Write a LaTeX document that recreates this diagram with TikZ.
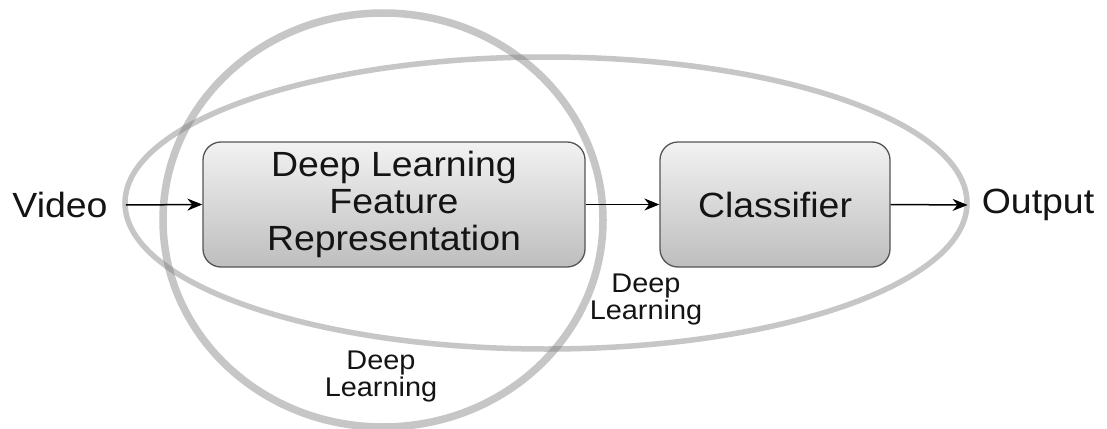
\documentclass[tikz,border=0pt]{standalone}
\usepackage{fontspec}
\setmainfont{Liberation Sans}[FakeStretch=1.07]
\usetikzlibrary{arrows.meta}
\definecolor{ringgray}{RGB}{120,120,120}
\definecolor{boxtop}{RGB}{242,242,242}
\definecolor{boxbot}{RGB}{190,190,190}
\definecolor{boxedge}{RGB}{85,85,85}
\definecolor{ink}{RGB}{20,20,20}
\begin{document}
\begin{tikzpicture}[x=1pt,y=-1pt,
  ring/.style={draw=ringgray,draw opacity=0.42},
  procbox/.style={draw=boxedge,line width=1.3pt,rounded corners=18pt,
    top color=boxtop,bottom color=boxbot,align=center,text=ink,
    font=\fontsize{35}{37}\selectfont,inner sep=0pt},
  lbl/.style={text=ink,font=\fontsize{35}{37}\selectfont,inner sep=0pt},
  small/.style={text=ink,align=center,font=\fontsize{27}{27}\selectfont,inner sep=0pt},
  flow/.style={draw=black,line width=1.5pt,-{Stealth[length=15pt,width=12pt]}}]
\useasboundingbox[fill=white] (0,0) rectangle (1107,428);
% overlapping rings
\draw[ring,line width=5.5pt] (546,203) ellipse [x radius=421,y radius=146];
\draw[ring,line width=7.5pt] (383,220) ellipse [x radius=220,y radius=207];
% nodes
\node[lbl] (video) at (60,205) {Video};
\node[procbox,minimum width=382pt,minimum height=125pt] (feat) at (394,204.5)
  {Deep Learning\\Feature\\Representation};
\node[procbox,minimum width=230pt,minimum height=125pt] (cls) at (775,204.5) {Classifier};
\node[lbl] (out) at (1038,205) {Output};
\node[small] (dl1) at (381,377) {Deep\\Learning};
\node[small] (dl2) at (646,300) {Deep\\Learning};
% connectors
\coordinate (vs) at ([xshift=18pt]video.east);
\coordinate (oe) at ([xshift=-14pt]out.west);
\draw[flow] (vs) -- (feat.west);
\draw[flow] (feat.east) -- (cls.west);
\draw[flow] (cls.east) -- (oe);
\end{tikzpicture}
\end{document}
